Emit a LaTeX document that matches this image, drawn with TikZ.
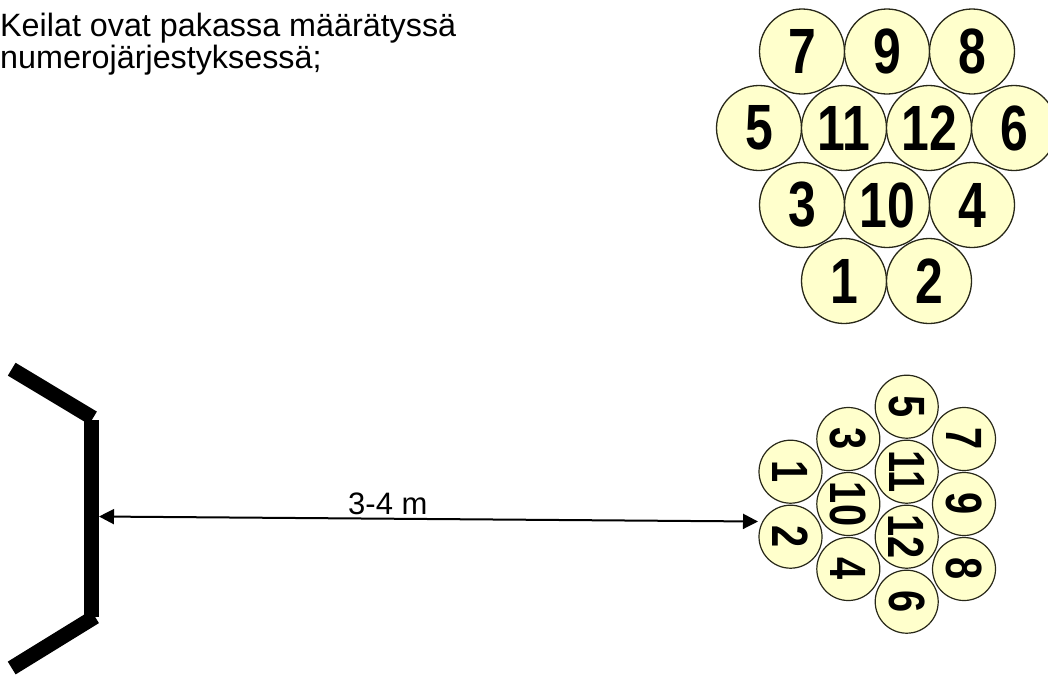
\documentclass[tikz,border=0pt]{standalone}
\usepackage{fontspec}
\setmainfont{Liberation Sans}
\usetikzlibrary{arrows.meta}
\definecolor{pinfill}{RGB}{255,255,204}
\definecolor{pinline}{RGB}{40,40,25}
\tikzset{
  bigpin/.style={circle, draw=pinline, line width=1.3pt, fill=pinfill, minimum size=85pt, inner sep=0pt,
    font=\fontsize{64}{64}\selectfont\bfseries},
  smallpin/.style={circle, draw=pinline, line width=1.2pt, fill=pinfill, minimum size=63pt, inner sep=0pt,
    font=\fontsize{51}{51}\selectfont\bfseries},
  bar/.style={line width=15pt, line cap=butt},
  dist/.style={line width=2pt, {Triangle[length=15pt,width=15pt]}-{Triangle[length=15pt,width=15pt]}},
}
\newcommand{\nd}[1]{\scalebox{0.78}[1]{#1}}
\begin{document}
\begin{tikzpicture}[x=1pt,y=-1pt]
\clip (0,0) rectangle (1048,675);
\fill[white] (0,0) rectangle (1048,675);
% title
\node[anchor=base west, align=left, font=\fontsize{32.3}{31.5}\selectfont, inner sep=0pt] (title) at (0,68)
  {Keilat ovat pakassa määrätyssä\\numerojärjestyksessä;};
% top cluster
\node[bigpin] (t7) at (802,51.5) {\nd{7}};
\node[bigpin] (t9) at (887,51.5) {\nd{9}};
\node[bigpin] (t8) at (972,51.5) {\nd{8}};
\node[bigpin] (t5) at (759,128) {\nd{5}};
\node[bigpin] (t11) at (844,128) {\nd{11}};
\node[bigpin] (t12) at (929,128) {\nd{12}};
\node[bigpin] (t6) at (1014,128) {\nd{6}};
\node[bigpin] (t3) at (802,205) {\nd{3}};
\node[bigpin] (t10) at (887,205) {\nd{10}};
\node[bigpin] (t4) at (972,205) {\nd{4}};
\node[bigpin] (t1) at (844,281) {\nd{1}};
\node[bigpin] (t2) at (929,281) {\nd{2}};
% bottom cluster (rotated)
\node[smallpin, rotate=-90] (b5) at (906.7,406.7) {\nd{5}};
\node[smallpin, rotate=-90] (b11) at (906.7,471.7) {\nd{11}};
\node[smallpin, rotate=-90] (b12) at (906.7,536.7) {\nd{12}};
\node[smallpin, rotate=-90] (b6) at (906.7,601.7) {\nd{6}};
\node[smallpin, rotate=-90] (b7) at (964,439) {\nd{7}};
\node[smallpin, rotate=-90] (b9) at (964,504) {\nd{9}};
\node[smallpin, rotate=-90] (b8) at (964,569) {\nd{8}};
\node[smallpin, rotate=-90] (b3) at (848.3,439) {\nd{3}};
\node[smallpin, rotate=-90] (b10) at (848.3,504) {\nd{10}};
\node[smallpin, rotate=-90] (b4) at (848.3,569) {\nd{4}};
\node[smallpin, rotate=-90] (b1) at (790.5,471.7) {\nd{1}};
\node[smallpin, rotate=-90] (b2) at (790.5,536.7) {\nd{2}};
% throwing line
\coordinate (u1) at (11.7,369.2);
\coordinate (u2) at (93,418);
\coordinate (v1) at (91.7,420);
\coordinate (v2) at (91.7,617);
\coordinate (l1) at (95,616.7);
\coordinate (l2) at (11.7,668);
\draw[bar] (u1) -- (u2);
\draw[bar] (v1) -- (v2);
\draw[bar] (l1) -- (l2);
% distance arrow
\coordinate (aL) at (99,516.5);
\coordinate (aR) at (758,521.5);
\draw[dist] (aL) -- (aR);
\node[anchor=base west, inner sep=0pt, font=\fontsize{31}{31}\selectfont] (lab) at (348,514) {3-4 m};
\end{tikzpicture}
\end{document}
